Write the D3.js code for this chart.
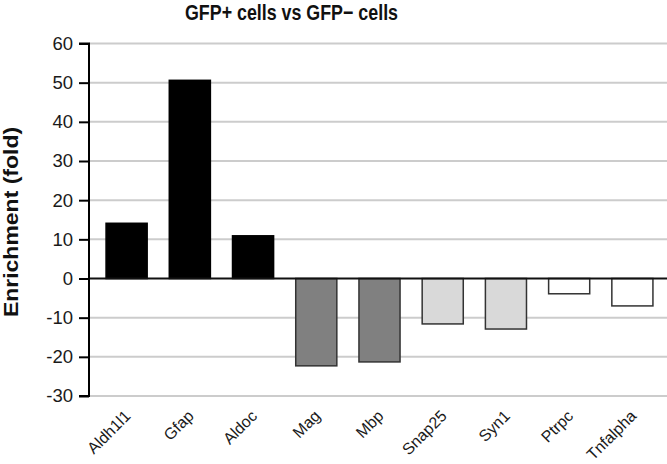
<!DOCTYPE html>
<html>
<head>
<meta charset="utf-8">
<script src="https://cdn.jsdelivr.net/npm/d3@7"></script>
<style>
  html, body { margin: 0; padding: 0; background: #fff; }
  svg { display: block; font-family: "Liberation Sans", Arial, sans-serif; }
</style>
</head>
<body>
<svg id="chart" width="667" height="464"></svg>
<script>
const categories = ["Aldh1l1", "Gfap", "Aldoc", "Mag", "Mbp", "Snap25", "Syn1", "Ptrpc", "Tnfalpha"];
const values = [14.1, 50.6, 10.9, -22.3, -21.3, -11.6, -12.9, -3.9, -7.0];
const groups = ["astro", "astro", "astro", "oligo", "oligo", "neuron", "neuron", "immune", "immune"];
const groupColors = { astro: "#000000", oligo: "#808080", neuron: "#d9d9d9", immune: "#ffffff" };
const yTicks = [-30, -20, -10, 0, 10, 20, 30, 40, 50, 60];
const title = "GFP+ cells vs GFP\u2212 cells";
const yTitle = "Enrichment (fold)";

const svg = d3.select("#chart");
const axisX = 89, gridRight = 667;

const x = d3.scaleBand().domain(categories).range([95, 664]).paddingInner(0.35).paddingOuter(0.175);
const y = d3.scaleLinear().domain([-30, 60]).range([396, 43.5]);

// gridlines
svg.append("g").selectAll("line").data(yTicks.filter(t => t !== 0)).join("line")
  .attr("x1", axisX).attr("x2", gridRight)
  .attr("y1", d => y(d)).attr("y2", d => y(d))
  .attr("stroke", "#cccccc").attr("stroke-width", 2);

// bars
svg.append("g").selectAll("rect").data(categories).join("rect")
  .attr("x", d => x(d))
  .attr("width", x.bandwidth())
  .attr("y", (d, i) => y(Math.max(0, values[i])))
  .attr("height", (d, i) => Math.abs(y(values[i]) - y(0)))
  .attr("fill", (d, i) => groupColors[groups[i]])
  .attr("stroke", (d, i) => groups[i] === "astro" ? "#000" : "#333")
  .attr("stroke-width", 1.5);

// zero line
svg.append("line")
  .attr("x1", axisX).attr("x2", gridRight)
  .attr("y1", y(0)).attr("y2", y(0))
  .attr("stroke", "#111").attr("stroke-width", 2);

// y axis
const yAxis = d3.axisLeft(y).tickValues(yTicks).tickSize(10).tickPadding(6).tickFormat(d => String(d));
const gy = svg.append("g").attr("transform", `translate(${axisX},0)`).call(yAxis);
gy.select(".domain").attr("stroke", "#000").attr("stroke-width", 2).attr("d", `M-10,${y(60)}H0V${y(-30)}H-10`);
gy.selectAll(".tick line").attr("stroke", "#000").attr("stroke-width", 2);
gy.selectAll(".tick text").attr("font-size", 18.5).attr("fill", "#1a1a1a")
  .attr("font-family", "'Liberation Sans', Arial, sans-serif");

// x labels
svg.append("g").selectAll("text").data(categories).join("text")
  .attr("transform", d => `translate(${x(d) + x.bandwidth() / 2 + 5},${417}) rotate(-45)`)
  .attr("text-anchor", "end")
  .attr("font-size", 16)
  .attr("fill", "#1a1a1a")
  .text(d => d);

// title
svg.append("text")
  .attr("x", 291.5).attr("y", 20)
  .attr("text-anchor", "middle")
  .attr("font-size", 22).attr("font-weight", "bold")
  .attr("textLength", 213).attr("lengthAdjust", "spacingAndGlyphs")
  .attr("fill", "#111")
  .text(title);

// y title
svg.append("text")
  .attr("transform", `translate(18,222) rotate(-90) scale(1,0.85)`)
  .attr("text-anchor", "middle")
  .attr("font-size", 23).attr("font-weight", "bold")
  .attr("fill", "#111")
  .text(yTitle);
</script>
</body>
</html>
